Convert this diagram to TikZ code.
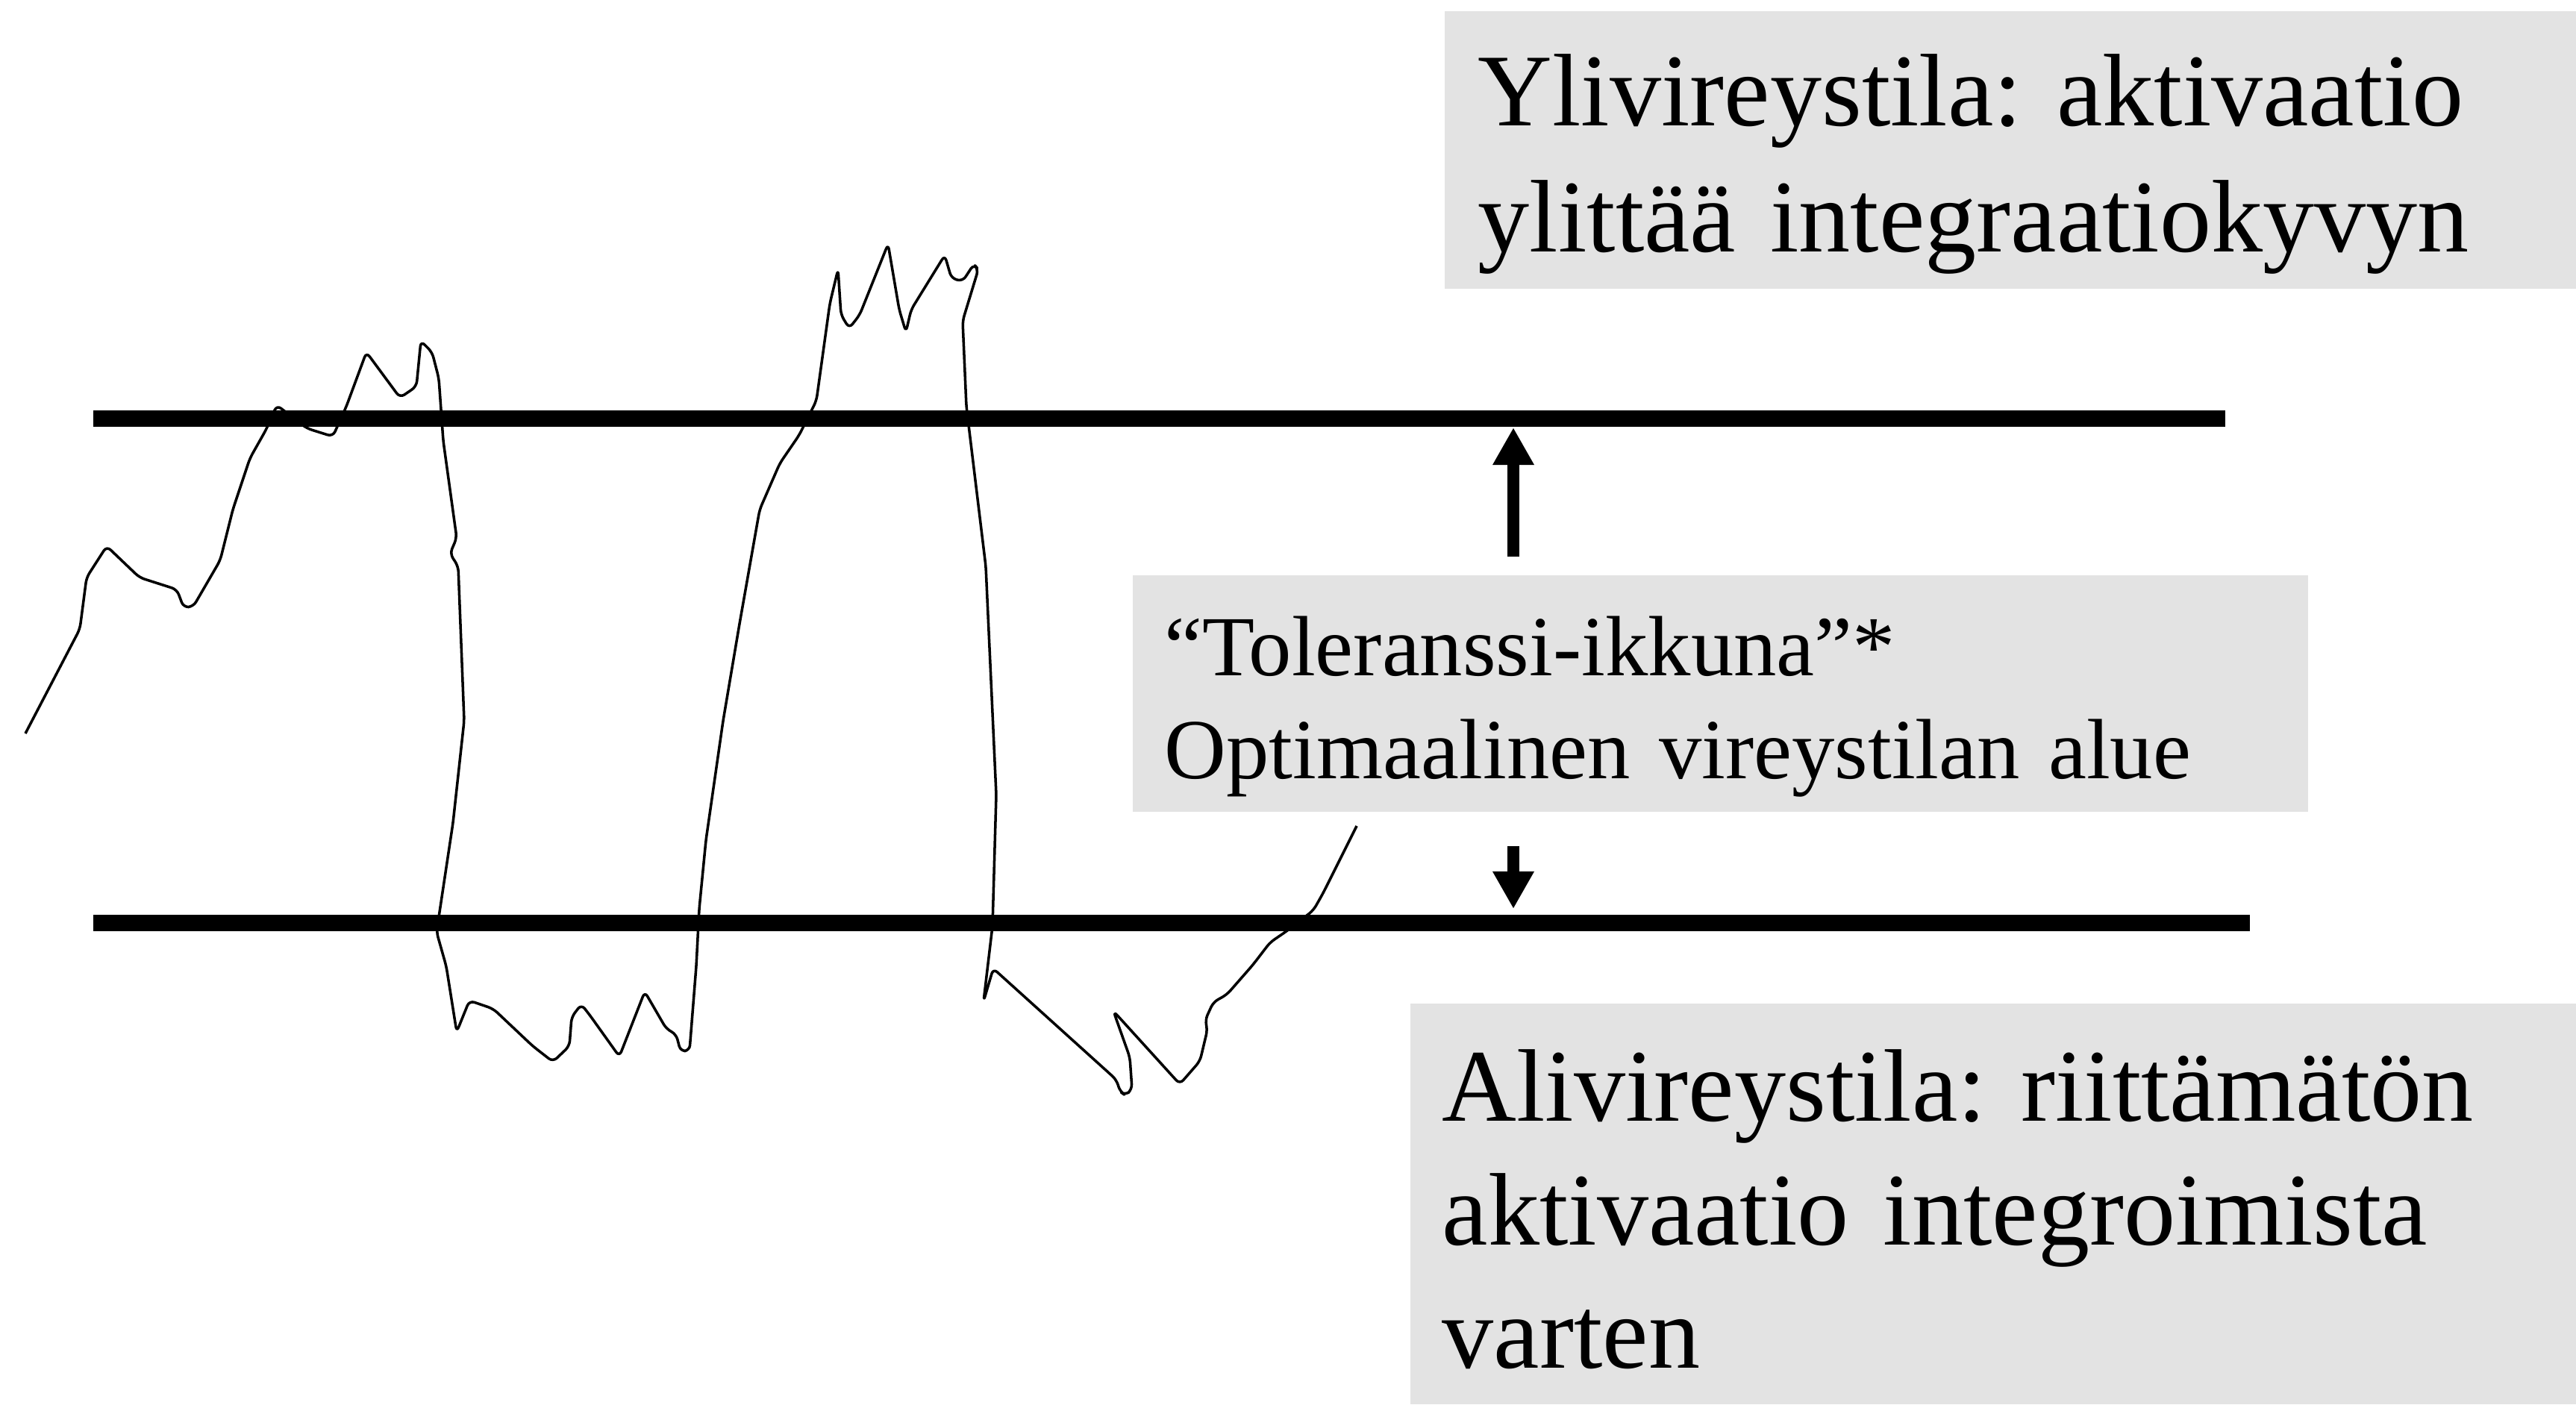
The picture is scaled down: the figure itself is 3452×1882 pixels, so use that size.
\documentclass[tikz,border=0pt]{standalone}
\usepackage{fontspec}
\setmainfont{Liberation Serif}
\usetikzlibrary{arrows.meta}
\definecolor{panelgray}{HTML}{E3E3E3}
\frenchspacing

\begin{document}
\begin{tikzpicture}[x=0.01cm, y=-0.01cm,
    boxtext/.style={anchor=base west, inner sep=0pt, text width=16cm, align=left},
    limitline/.style={line width=6.5pt},
    pointer/.style={line width=4.8pt, -{Triangle[length=0.5cm, width=0.52cm]}}]
    \useasboundingbox (0,0) rectangle (3452,1882);
    \fill[panelgray] (1936,15) rectangle (3452,387);
    \fill[panelgray] (1518,771) rectangle (3093,1088);
    \fill[panelgray] (1890,1345) rectangle (3452,1882);
    \node[boxtext, font=\fontsize{39.3pt}{47.8pt}\selectfont] (over) at (1980,169)
        {Ylivireystila: aktivaatio\\ylittää integraatiokyvyn};
    \node[boxtext, font=\fontsize{32.6pt}{39.3pt}\selectfont] (window) at (1560,905)
        {“Toleranssi-ikkuna”*\\Optimaalinen vireystilan alue};
    \node[boxtext, font=\fontsize{39.3pt}{47.2pt}\selectfont] (under) at (1932,1502)
        {Alivireystila: riittämätön\\aktivaatio integroimista\\varten};
    \coordinate (upperleft) at (125,561);
    \coordinate (upperright) at (2982,561);
    \coordinate (lowerleft) at (125,1237);
    \coordinate (lowerright) at (3015,1237);
    \draw[limitline] (upperleft) -- (upperright);
    \draw[limitline] (lowerleft) -- (lowerright);
    \coordinate (upstart) at (2028,746);
    \coordinate (upend) at (2028,573);
    \coordinate (downstart) at (2028,1134);
    \coordinate (downend) at (2028,1218);
    \draw[pointer] (upstart) -- (upend);
    \draw[pointer] (downstart) -- (downend);
    \draw[line width=1pt, line join=round, rounded corners=2pt] (34,983) -- (107,843) -- (116,774) -- (143,732)
        -- (187,774) -- (237,790) -- (246,814) -- (259,813) -- (295,751) -- (312,683)
        -- (335,614) -- (357,575) -- (371,543) -- (411,574) -- (446,585) -- (464,545)
        -- (491,472) -- (536,533) -- (558,518) -- (564,457) -- (579,472) -- (588,507)
        -- (594,591) -- (612,721) -- (603,742) -- (614,759) -- (622,966) -- (607,1103)
        -- (585,1249) -- (598,1295) -- (612,1383) -- (629,1341) -- (661,1352) -- (714,1402)
        -- (741,1423) -- (763,1402) -- (766,1363) -- (779,1346) -- (790,1360) -- (830,1416)
        -- (864,1329) -- (893,1379) -- (906,1386) -- (912,1409) -- (924,1408) -- (933,1295)
        -- (937,1218) -- (946,1126) -- (969,966) -- (991,836) -- (1018,683) -- (1045,621)
        -- (1071,583) -- (1094,537) -- (1112,407) -- (1123,361) -- (1127,422) -- (1138,440)
        -- (1152,422) -- (1190,327) -- (1205,415) -- (1214,445) -- (1221,415) -- (1266,342)
        -- (1275,373) -- (1290,377) -- (1305,354) -- (1311,361) -- (1290,430) -- (1295,545)
        -- (1321,759) -- (1335,1065) -- (1330,1241) -- (1318,1342) -- (1331,1298)
        -- (1496,1447) -- (1501,1463) -- (1508,1468) -- (1517,1460) -- (1514,1417)
        -- (1492,1355) -- (1581,1453) -- (1608,1422) -- (1618,1380) -- (1615,1367)
        -- (1626,1343) -- (1644,1333) -- (1679,1293) -- (1702,1263) -- (1724,1248)
        -- (1760,1220) -- (1773,1197) -- (1818,1107);
\end{tikzpicture}
\end{document}
